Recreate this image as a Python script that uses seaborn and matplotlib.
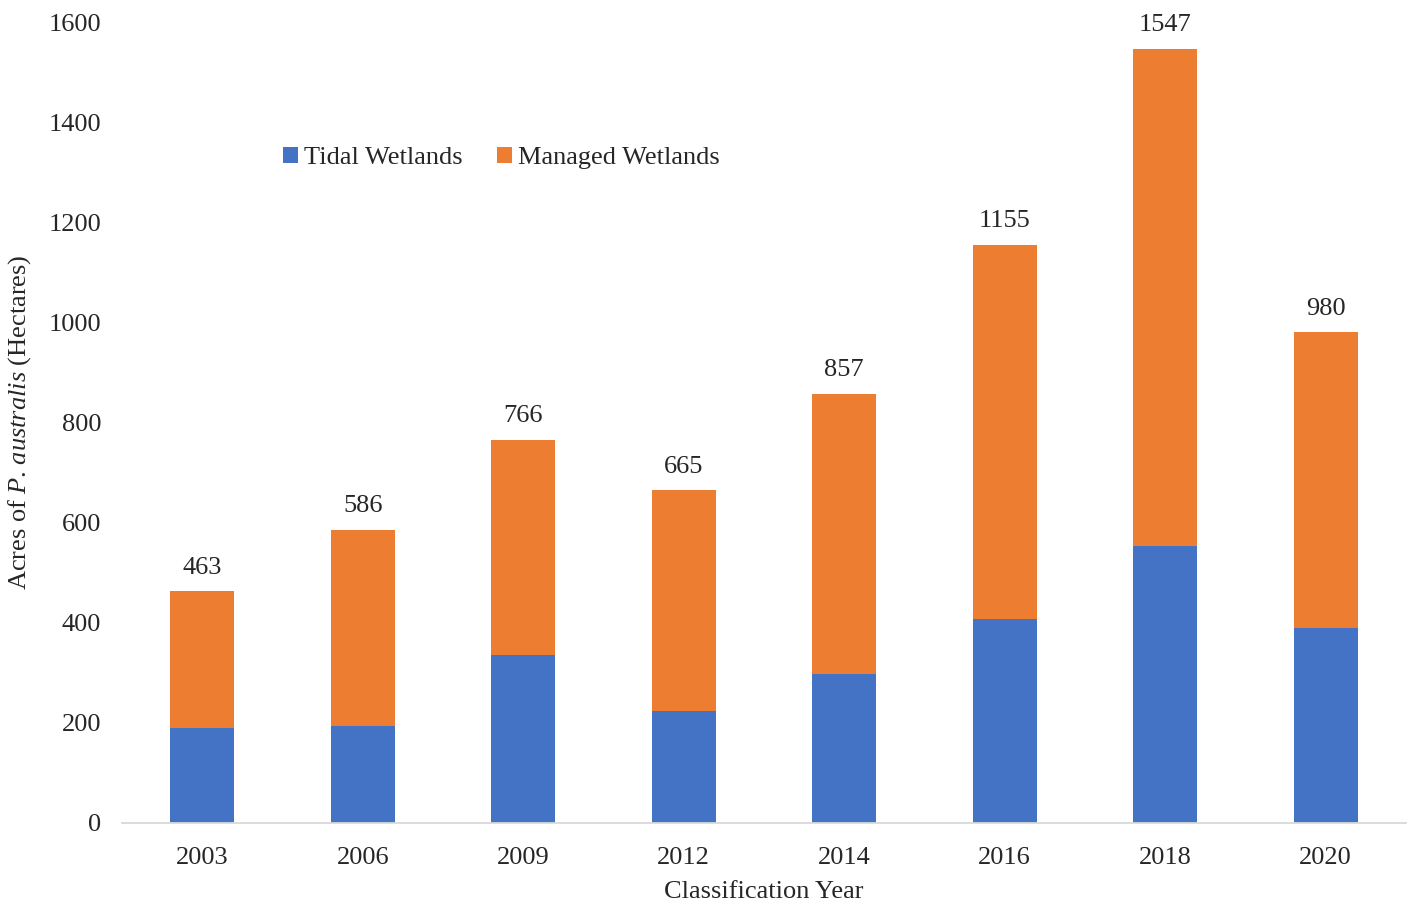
import pandas as pd
import numpy as np
import matplotlib.pyplot as plt
import seaborn as sns

years = ['2003', '2006', '2009', '2012', '2014', '2016', '2018', '2020']
total = [463, 586, 766, 665, 857, 1155, 1547, 980]
tidal = [190, 194, 336, 223, 298, 408, 554, 390]

data = pd.DataFrame({'Year': years, 'Total': total, 'Tidal': tidal})
data['Managed'] = data['Total'] - data['Tidal']

sns.set_style('white')
plt.rcParams['font.family'] = ['Liberation Serif', 'DejaVu Serif']
plt.rcParams['mathtext.fontset'] = 'custom'
plt.rcParams['mathtext.rm'] = 'Liberation Serif'
plt.rcParams['mathtext.it'] = 'Liberation Serif:italic'

fig = plt.figure(figsize=(14.18, 9.13), dpi=100)
ax = fig.add_axes([0.086, 0.0986, 0.9055, 0.8773])

# orange bar is the full total, blue tidal part sits over its base
sns.barplot(data=data, x='Year', y='Total', color='#ED7D31', width=0.4,
            saturation=1, linewidth=0, label='Managed Wetlands', ax=ax)
sns.barplot(data=data, x='Year', y='Tidal', color='#4472C4', width=0.4,
            saturation=1, linewidth=0, label='Tidal Wetlands', ax=ax)

ax.bar_label(ax.containers[0], labels=[str(v) for v in total], padding=9, fontsize=19)

ax.set_xlim(-0.5, 7.5)
ax.set_ylim(0, 1600)
ax.set_yticks(range(0, 1601, 200))
ax.tick_params(axis='both', labelsize=19, length=0)
ax.tick_params(axis='x', pad=17)
ax.tick_params(axis='y', pad=15)

for side in ['top', 'right', 'left']:
    ax.spines[side].set_visible(False)
ax.spines['bottom'].set_color('#D9D9D9')
ax.spines['bottom'].set_linewidth(1.3)

ax.set_xlabel('Classification Year', fontsize=19, labelpad=9)
ax.set_ylabel(r'Acres of $\mathit{P}$. $\mathit{australis}$ (Hectares)', fontsize=19, labelpad=11)

handles, labels = ax.get_legend_handles_labels()
order = [labels.index('Tidal Wetlands'), labels.index('Managed Wetlands')]
ax.legend([handles[i] for i in order], [labels[i] for i in order],
          loc='center left', bbox_to_anchor=(0.183, 0.827), bbox_transform=fig.transFigure,
          ncol=2, frameon=False, fontsize=19, handlelength=0.55, handleheight=0.55,
          handletextpad=0.25, columnspacing=1.3)

fig.savefig('out.png', dpi=100)
